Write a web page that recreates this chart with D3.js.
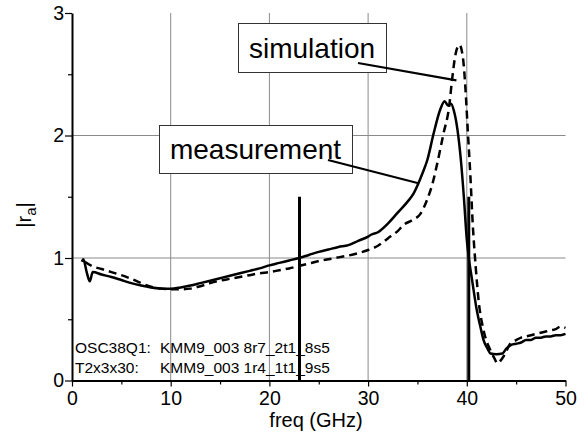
<!DOCTYPE html>
<html><head><meta charset="utf-8">
<script src="https://cdn.jsdelivr.net/npm/d3@7"></script>
<style>
html,body{margin:0;padding:0;background:#fff;}
svg{display:block;font-family:"Liberation Sans",Arial,Helvetica,sans-serif;}
</style></head>
<body><svg id="c" width="586" height="436"></svg>
<script>
// ---- data ----
const xMajorTicks = [0, 10, 20, 30, 40, 50];
const xMinorTicks = [5, 15, 25, 35, 45];
const yMajorTicks = [0, 1, 2, 3];
const yMinorTicks = [0.5, 1.5, 2.5];
const xGrid = [10, 20, 30, 40];
const yGrid = [1, 2];
const xLabel = "freq (GHz)";
const markerFreqs = [23.05, 40.2];
const markerTop = 1.5;
const infoLines = [["OSC38Q1:", "KMM9_003 8r7_2t1_8s5"], ["T2x3x30:", "KMM9_003 1r4_1t1_9s5"]];

const measFreq = [1.0,1.15,1.5,1.8,2.1,3,4,5,6,7,8,9,10,11,12,13,14,15,16,17,18,19,20,21,22,23,24,25,26,27,28,29,30,30.3,31,32,33,34,34.6,35.1,35.5,36,36.65,37.3,37.75,38.1,38.4,38.7,39.05,39.4,39.7,40.0,40.2,40.5,41.0,41.4,41.7,42.1,42.4,43,43.6,44,44.5,45,45.5,46,46.5,47,47.5,48,48.5,49,49.5,50];
const measVal  = [0.97,0.99,0.88,0.81,0.885,0.865,0.845,0.82,0.795,0.775,0.76,0.752,0.75,0.76,0.775,0.795,0.815,0.835,0.855,0.875,0.895,0.915,0.94,0.96,0.98,1.0,1.025,1.05,1.07,1.09,1.105,1.14,1.175,1.19,1.21,1.28,1.37,1.46,1.525,1.61,1.69,1.80,2.02,2.21,2.28,2.245,2.26,2.2,2.05,1.8,1.5,1.15,1.0,0.84,0.58,0.43,0.33,0.26,0.22,0.215,0.22,0.26,0.29,0.30,0.31,0.33,0.33,0.35,0.35,0.36,0.36,0.37,0.37,0.38];

const simFreq = [1.3,2,3,4,5,6,7,8,9,10,11,12,13,14,15,16,17,18,19,20,21,22,23,24,25,26,27,28,29,30,31,32,33,33.6,34.5,35.3,36,36.5,37,37.65,38.2,38.5,38.85,39.25,39.6,39.85,40.1,40.35,40.6,40.9,41.2,41.7,42.4,42.8,43.1,43.4,43.75,44.4,45,45.5,46,47,48,48.5,49,49.5,50];
const simVal  = [0.97,0.935,0.91,0.885,0.86,0.83,0.795,0.765,0.75,0.745,0.745,0.75,0.77,0.795,0.815,0.83,0.845,0.86,0.875,0.885,0.9,0.915,0.935,0.955,0.975,0.99,1.005,1.02,1.04,1.065,1.1,1.16,1.22,1.27,1.31,1.36,1.48,1.6,1.77,2.02,2.23,2.45,2.66,2.74,2.64,2.40,2.04,1.69,1.28,0.93,0.65,0.41,0.245,0.18,0.14,0.16,0.20,0.30,0.33,0.35,0.36,0.38,0.40,0.41,0.42,0.44,0.43];

const annotations = [
  {text: "simulation", box: [238, 23, 386, 72], from: [358, 63], toF: 38.95, toV: 2.45},
  {text: "measurement", box: [159, 125, 352, 173], from: [328, 160], toF: 35.1, toV: 1.61}
];

// ---- chart ----
const svg = d3.select("#c");
const x = d3.scaleLinear().domain([0, 50]).range([72, 565.5]);
const y = d3.scaleLinear().domain([0, 3]).range([380.5, 13]);
const gridColor = "#8a8a8a";

// grid
svg.append("g").selectAll("line").data(xGrid).join("line")
  .attr("x1", d => x(d)).attr("x2", d => x(d))
  .attr("y1", y(3)).attr("y2", y(0))
  .attr("stroke", gridColor).attr("stroke-width", 1);
svg.append("g").selectAll("line").data(yGrid).join("line")
  .attr("x1", x(0)).attr("x2", x(50))
  .attr("y1", d => y(d)).attr("y2", d => y(d))
  .attr("stroke", gridColor).attr("stroke-width", 1);

// axes
const fontTick = "19.5px";
const gx = svg.append("g").attr("transform", `translate(0,${y(0)})`)
  .call(d3.axisBottom(x).tickValues(xMajorTicks).tickSize(6).tickSizeOuter(0).tickPadding(5).tickFormat(d3.format("d")));
gx.select(".domain").attr("stroke-width", 2).attr("stroke", "#000");
gx.selectAll(".tick line").attr("stroke-width", 1.2);
gx.selectAll("text").attr("font-size", fontTick).attr("fill", "#000").attr("font-family", "Liberation Sans, Arial, sans-serif");
const gxm = svg.append("g").attr("transform", `translate(0,${y(0)})`)
  .call(d3.axisBottom(x).tickValues(xMinorTicks).tickSize(4).tickSizeOuter(0).tickFormat(""));
gxm.select(".domain").remove();
gxm.selectAll(".tick line").attr("stroke-width", 1.2);

const gy = svg.append("g").attr("transform", `translate(${x(0)},0)`)
  .call(d3.axisLeft(y).tickValues(yMajorTicks).tickSize(7).tickSizeOuter(0).tickPadding(1).tickFormat(d3.format("d")));
gy.select(".domain").attr("stroke-width", 2).attr("stroke", "#000");
gy.selectAll(".tick line").attr("stroke-width", 1.2);
gy.selectAll("text").attr("font-size", fontTick).attr("fill", "#000").attr("font-family", "Liberation Sans, Arial, sans-serif");
const gym = svg.append("g").attr("transform", `translate(${x(0)},0)`)
  .call(d3.axisLeft(y).tickValues(yMinorTicks).tickSize(4).tickSizeOuter(0).tickFormat(""));
gym.select(".domain").remove();
gym.selectAll(".tick line").attr("stroke-width", 1.2);

// axis titles
svg.append("text").attr("x", 316).attr("y", 427).attr("text-anchor", "middle")
  .attr("font-size", "20px").text(xLabel);
const yl = svg.append("text").attr("transform", "translate(31,215) rotate(-90)")
  .attr("text-anchor", "middle").attr("font-size", "20px");
yl.append("tspan").text("|r");
yl.append("tspan").attr("font-size", "15px").attr("dy", "5").text("a");
yl.append("tspan").attr("dy", "-5").text("|");

// info text
infoLines.forEach((l, i) => {
  const t = svg.append("text").attr("y", 353 + i * 20).attr("font-size", "15.5px");
  t.append("tspan").attr("x", 75).text(l[0]);
  t.append("tspan").attr("x", 160).text(l[1]);
});

// markers
svg.append("g").selectAll("line").data(markerFreqs).join("line")
  .attr("x1", d => x(d)).attr("x2", d => x(d))
  .attr("y1", y(0)).attr("y2", y(markerTop))
  .attr("stroke", "#000").attr("stroke-width", 3);

// curves
const line = d3.line().x(d => x(d[0])).y(d => y(d[1])).curve(d3.curveMonotoneX);
const measData = measFreq.map((f, i) => [f, measVal[i]]);
const simData = simFreq.map((f, i) => [f, simVal[i]]);
svg.append("path").datum(simData).attr("d", line)
  .attr("fill", "none").attr("stroke", "#000").attr("stroke-width", 2.5)
  .attr("stroke-dasharray", "8,5");
svg.append("path").datum(measData).attr("d", line)
  .attr("fill", "none").attr("stroke", "#000").attr("stroke-width", 2.5);

// annotations
annotations.forEach(a => {
  const [x0, y0, x1, y1] = a.box;
  svg.append("rect").attr("x", x0 + 0.5).attr("y", y0 + 0.5)
    .attr("width", x1 - x0).attr("height", y1 - y0)
    .attr("fill", "#fff").attr("stroke", "#333").attr("stroke-width", 1);
  svg.append("text").attr("x", (x0 + x1) / 2).attr("y", (y0 + y1) / 2 + 10)
    .attr("text-anchor", "middle").attr("font-size", "28px").text(a.text);
  svg.append("line").attr("x1", a.from[0]).attr("y1", a.from[1])
    .attr("x2", x(a.toF)).attr("y2", y(a.toV))
    .attr("stroke", "#000").attr("stroke-width", 2.2);
});
</script></body></html>
